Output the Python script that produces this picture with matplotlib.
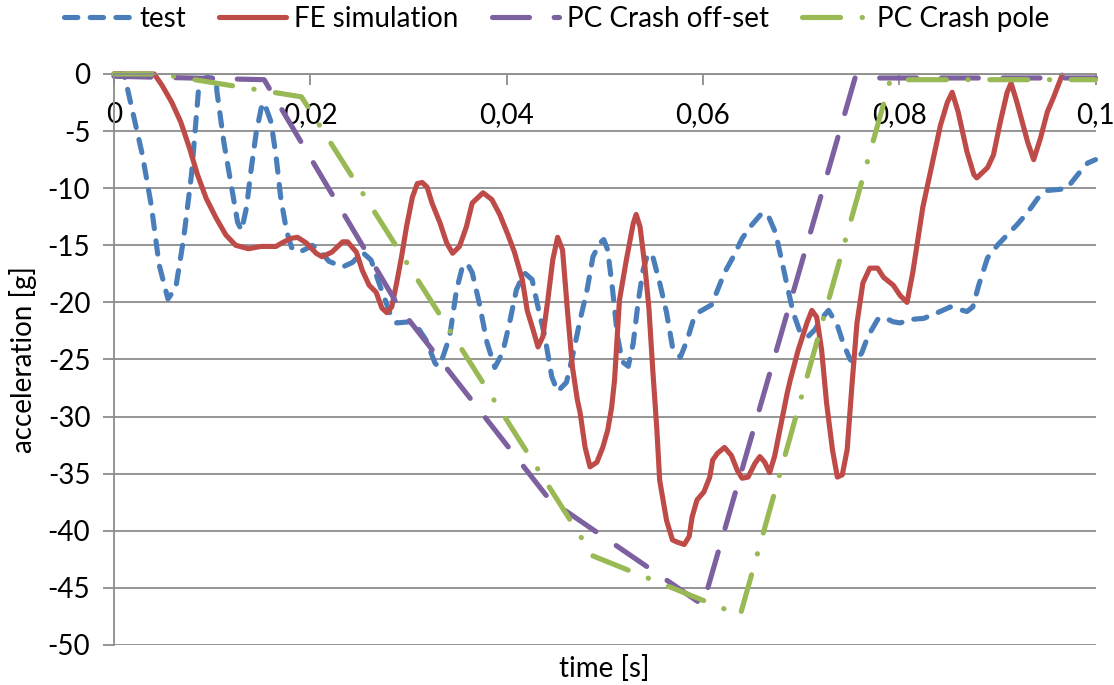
import numpy as np
import matplotlib.pyplot as plt

# crash pulse, time in ms and acceleration in g
t_test = [0, 1.0, 1.3, 2.9, 3.8, 4.6, 5.5, 6.3, 7.1, 7.9, 8.4, 8.7, 9.5, 10.4, 10.5,
          11.2, 11.9, 12.6, 13.0, 13.5, 14.0, 14.5, 15.0, 15.3, 16.0, 16.5, 17.0,
          17.6, 18.1, 18.9, 19.6, 20.2, 20.9, 21.9, 23.3, 24.3, 25.3, 26.2, 27.0,
          28.1, 28.8, 30.1, 30.8, 31.8, 32.7, 33.0, 33.5, 34.2, 34.9, 35.5, 36.0,
          36.5, 37.2, 38.0, 38.8, 39.6, 40.3, 41.0, 41.8, 42.6, 43.2, 43.9, 44.6,
          45.2, 46.1, 46.7, 47.5, 48.2, 48.8, 49.5, 49.9, 50.3, 50.8, 51.3, 51.8,
          52.4, 52.9, 53.4, 53.9, 54.4, 54.9, 55.6, 56.3, 56.9, 57.7, 58.4, 59.0,
          59.7, 60.9, 61.5, 62.2, 63.1, 64.0, 65.0, 66.0, 66.6, 67.4, 68.1, 68.6,
          69.2, 69.9, 70.7, 71.4, 72.2, 72.8, 73.7, 74.3, 75.0, 75.5, 76.2, 76.8,
          77.8, 78.4, 79.4, 80.1, 81.1, 82.5, 83.9, 85.2, 86.9, 87.5, 88.1, 89.0,
          90.0, 91.0, 92.0, 93.1, 94.1, 95.1, 96.4, 97.1, 98.2, 99.2, 100.0]
a_test = [0, 0, -1.0, -7.1, -11.5, -16.7, -19.7, -18.7, -14.4, -8.8, -3.6, -0.5, -0.3,
          -0.4, -1.6, -6.0, -9.5, -13.0, -13.7, -11.7, -8.2, -5.1, -3.0, -2.5, -4.2,
          -7.1, -10.9, -13.8, -15.2, -15.6, -15.3, -15.0, -15.4, -16.4, -16.9, -16.5,
          -15.6, -16.3, -18.3, -20.9, -21.8, -21.7, -22.0, -23.3, -25.3, -25.6, -24.8,
          -23.0, -18.9, -16.9, -16.6, -17.4, -20.0, -23.5, -25.7, -24.4, -21.8, -18.9,
          -17.4, -18.0, -20.4, -23.0, -26.5, -27.8, -27.0, -24.8, -21.5, -18.9, -16.0,
          -14.8, -14.5, -15.4, -18.9, -23.0, -25.2, -25.6, -23.6, -20.0, -17.2, -15.7,
          -16.0, -18.3, -20.9, -23.9, -24.8, -23.3, -21.6, -20.8, -20.2, -18.9, -17.4,
          -16.0, -14.4, -13.2, -12.2, -12.3, -13.9, -16.6, -18.6, -20.9, -22.6, -23.0,
          -22.4, -21.3, -20.7, -22.0, -23.6, -25.0, -25.3, -24.4, -23.0, -21.5, -21.3,
          -21.7, -21.8, -21.5, -21.4, -20.9, -20.4, -20.8, -20.4, -18.5, -16.1, -15.0,
          -14.1, -13.2, -12.1, -10.9, -10.2, -10.1, -10.0, -8.8, -7.8, -7.5]

t_fe = [0, 4.1, 4.9, 5.9, 6.8, 7.7, 8.5, 9.4, 10.4, 11.4, 12.4, 13.7, 15.0, 16.5, 17.1,
        18.0, 18.7, 19.6, 20.6, 21.2, 22.2, 23.3, 23.8, 24.7, 25.3, 26.0, 26.7, 27.3,
        27.8, 28.3, 28.8, 29.3, 29.8, 30.4, 30.9, 31.4, 31.9, 32.4, 33.2, 33.9, 34.5,
        35.2, 35.9, 36.5, 37.6, 38.5, 39.3, 40.1, 40.8, 41.6, 42.1, 42.7, 43.2, 43.7,
        44.2, 44.7, 45.2, 45.7, 46.2, 46.7, 47.2, 47.5, 48.0, 48.5, 49.2, 49.8, 50.3,
        50.7, 51.0, 51.5, 52.2, 52.9, 53.2, 53.6, 54.1, 54.5, 54.9, 55.3, 55.6, 56.3,
        56.9, 57.4, 58.1, 58.6, 58.9, 59.4, 60.1, 60.7, 61.0, 61.5, 62.2, 62.9, 63.5,
        64.0, 64.6, 65.3, 65.8, 66.3, 66.8, 67.3, 67.9, 68.6, 68.9, 69.7, 70.6, 71.1,
        71.6, 72.1, 72.6, 73.2, 73.7, 74.2, 74.7, 75.2, 75.7, 76.3, 77.0, 77.8, 78.4,
        79.4, 80.1, 80.8, 81.4, 82.4, 83.4, 84.2, 84.9, 85.4, 86.0, 86.9, 87.6, 87.9,
        89.0, 89.6, 90.3, 91.0, 91.4, 92.0, 93.1, 93.7, 94.4, 95.1, 95.7, 96.6]
a_fe = [0, 0, -1.0, -2.5, -4.2, -6.5, -8.8, -10.9, -12.6, -14.1, -15.0, -15.3, -15.1,
        -15.1, -14.8, -14.4, -14.3, -14.8, -15.7, -16.0, -15.6, -14.7, -14.7, -15.6,
        -17.2, -18.5, -19.1, -20.5, -20.9, -20.4, -18.3, -16.0, -13.4, -10.8, -9.6,
        -9.5, -9.9, -11.3, -13.0, -14.8, -15.7, -15.1, -13.4, -11.3, -10.4, -11.0,
        -12.3, -14.0, -15.6, -18.0, -20.7, -22.4, -23.9, -23.0, -19.8, -16.3, -14.3,
        -15.4, -20.7, -25.6, -28.5, -29.7, -32.7, -34.4, -34.0, -32.7, -31.2, -29.2,
        -26.8, -19.8, -16.3, -13.1, -12.3, -13.4, -16.9, -20.5, -26.0, -31.0, -35.6,
        -39.1, -40.8, -41.0, -41.2, -40.5, -38.8, -37.3, -36.6, -35.3, -33.8, -33.2,
        -32.7, -33.4, -34.7, -35.4, -35.3, -34.1, -33.5, -34.0, -34.9, -33.5, -30.9,
        -27.9, -26.8, -24.2, -21.8, -20.7, -21.3, -24.2, -28.8, -32.9, -35.3, -35.1,
        -32.9, -27.1, -21.8, -18.3, -17.0, -17.0, -17.8, -18.5, -19.4, -20.0, -17.3,
        -11.7, -7.7, -4.5, -2.5, -1.6, -3.3, -6.8, -8.8, -9.1, -8.2, -7.1, -4.2, -1.6,
        -0.8, -2.5, -6.0, -7.5, -5.6, -3.3, -2.1, -0.1]

t_offset = [0, 15.3, 29.1, 44.4, 60.0, 75.5, 100.0]
a_offset = [-0.2, -0.5, -20.5, -37.3, -46.5, -0.35, -0.35]

t_pole = [0, 4.6, 19.1, 48.8, 63.8, 79.1, 100.0]
a_pole = [0, 0, -2.0, -42.2, -47.4, -0.5, -0.5]

xticks = [0, 0.02, 0.04, 0.06, 0.08, 0.1]
xtick_labels = ['0', '0,02', '0,04', '0,06', '0,08', '0,1']
yticks = list(range(-50, 1, 5))

plt.rcParams['font.family'] = ['Lato', 'DejaVu Sans']

fig = plt.figure(figsize=(11.14, 6.85), dpi=100)
ax = fig.add_axes([0.1023, 0.0584, 0.8811, 0.8336])

lw = 3.7
ax.plot(np.array(t_test) / 1000, a_test, color='#4A7EBB', lw=lw, dashes=(2.6, 2.4),
        dash_capstyle='round', dash_joinstyle='round', label='test', clip_on=False)
ax.plot(np.array(t_fe) / 1000, a_fe, color='#BE4B48', lw=lw,
        solid_capstyle='round', solid_joinstyle='round', label='FE simulation', clip_on=False)
ax.plot(np.array(t_offset) / 1000, a_offset, color='#7D60A0', lw=lw, dashes=(7.2, 4.8),
        dash_capstyle='round', label='PC Crash off-set', clip_on=False)
ax.plot(np.array(t_pole) / 1000, a_pole, color='#98B954', lw=lw,
        dashes=(7.4, 4.2, 0.05, 4.2), dash_capstyle='round',
        label='PC Crash pole', clip_on=False)

ax.set_xlim(0, 0.1)
ax.set_ylim(-50, 0)
ax.set_xticks(xticks)
ax.set_xticklabels(xtick_labels)
ax.set_yticks(yticks)
ax.set_yticklabels([str(v) for v in yticks])

# x axis crosses at 0, i.e. along the top edge
ax.spines['bottom'].set_position(('data', 0))
ax.spines['top'].set_visible(False)
ax.spines['right'].set_visible(False)
for s in ('left', 'bottom'):
    ax.spines[s].set_color('#8c8c8c')
    ax.spines[s].set_linewidth(1.3)
ax.set_axisbelow(True)
ax.grid(axis='y', color='#8c8c8c', lw=1.3)
ax.tick_params(axis='both', direction='out', length=8, width=1.3, color='#8c8c8c',
               labelsize=20)
ax.tick_params(axis='x', pad=12)
ax.tick_params(axis='y', pad=9)

ax.set_xlabel('time [s]', fontsize=20)
ax.xaxis.set_label_coords(0.5, -0.018)
ax.set_ylabel('acceleration [g]', fontsize=20)
ax.yaxis.set_label_coords(-0.078, 0.5)

fig.legend(loc='upper center', bbox_to_anchor=(0.5, 1.012), ncol=4, frameon=False,
           fontsize=20, handlelength=2.4, handletextpad=0.3, columnspacing=1.2,
           borderpad=0)

fig.savefig('out.png', dpi=100)
